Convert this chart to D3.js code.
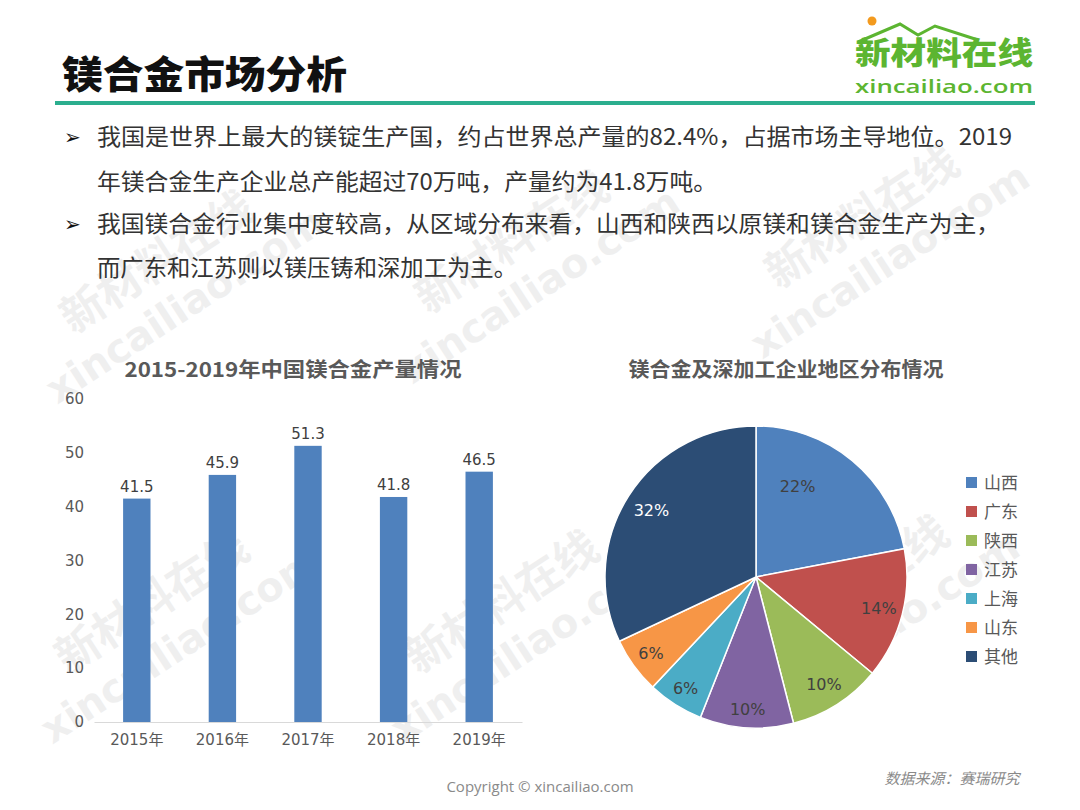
<!DOCTYPE html>
<html><head><meta charset="utf-8">
<script src="https://cdn.jsdelivr.net/npm/d3@7"></script>
<style>
html,body{margin:0;padding:0;background:#fff;}
svg{display:block;}
</style></head>
<body>
<svg id="c" width="1080" height="810"></svg>
<script>
const years = ["2015年","2016年","2017年","2018年","2019年"];
const output = [41.5, 45.9, 51.3, 41.8, 46.5];
const yTicks = [0,10,20,30,40,50,60];
const regions = ["山西","广东","陕西","江苏","上海","山东","其他"];
const shares = [22,14,10,10,6,6,32];
const regionColors = ["#4F81BD","#C0504D","#9BBB59","#8064A2","#4BACC6","#F79646","#2C4D75"];
const bullets = [
  ["我国是世界上最大的镁锭生产国，约占世界总产量的82.4%，占据市场主导地位。2019","年镁合金生产企业总产能超过70万吨，产量约为41.8万吨。"],
  ["我国镁合金行业集中度较高，从区域分布来看，山西和陕西以原镁和镁合金生产为主，","而广东和江苏则以镁压铸和深加工为主。"]
];

const svg = d3.select("#c");
const cjk = "'Noto Sans CJK SC','Noto Sans',sans-serif";
const num = "'DejaVu Sans','Noto Sans CJK SC',sans-serif";

// watermarks
const wm = [[175,290],[530,270],[880,245],[170,630],[520,630],[870,615]];
wm.forEach(([x,y])=>{
  const g = svg.append("g").attr("transform",`translate(${x},${y}) rotate(-33)`).attr("opacity",0.06);
  g.append("text").attr("x",0).attr("y",-18).attr("text-anchor","middle").attr("font-family",cjk).attr("font-weight","bold").attr("font-size",44).text("新材料在线");
  g.append("text").attr("x",0).attr("y",32).attr("text-anchor","middle").attr("font-family",num).attr("font-weight","bold").attr("font-size",40).text("xincailiao.com");
});

// header
svg.append("text").attr("x",62).attr("y",88).attr("font-family",cjk).attr("font-weight","900").attr("font-size",38).attr("fill","#111").attr("textLength",285).attr("lengthAdjust","spacingAndGlyphs").text("镁合金市场分析");
svg.append("rect").attr("x",55).attr("y",101).attr("width",980).attr("height",4).attr("fill","#2BAE8E");

// logo
const lg = svg.append("g");
lg.append("circle").attr("cx",872).attr("cy",21).attr("r",4.5).attr("fill","#F39A1E");
lg.append("path").attr("d","M858,42 L900,24 L918,35 L935,26 L975,39").attr("fill","none").attr("stroke","#5CB531").attr("stroke-width",3);
lg.append("text").attr("x",944).attr("y",64).attr("text-anchor","middle").attr("font-family",cjk).attr("font-weight","900").attr("font-size",31).attr("fill","#5CB531").attr("textLength",178).attr("lengthAdjust","spacingAndGlyphs").text("新材料在线");
lg.append("text").attr("x",944).attr("y",93).attr("text-anchor","middle").attr("font-family","'Open Sans',sans-serif").attr("font-weight","600").attr("font-size",18).attr("fill","#5CB531").attr("textLength",178).attr("lengthAdjust","spacingAndGlyphs").text("xincailiao.com");

// bullets
const lineYs = [[145,190],[232,276]];
const lineLens = [[915,620],[903,420]];
bullets.forEach((b,i)=>{
  svg.append("text").attr("x",64).attr("y",lineYs[i][0]-1).attr("font-family","'DejaVu Sans',sans-serif").attr("font-size",20).attr("fill","#111").text("➢");
  b.forEach((t,j)=>{
    svg.append("text").attr("x",97).attr("y",lineYs[i][j]).attr("font-family",cjk).attr("font-size",22.5).attr("fill","#333")
      .attr("textLength",lineLens[i][j]).attr("lengthAdjust","spacingAndGlyphs").text(t);
  });
});

// bar chart
const x = d3.scaleBand().domain(years).range([94,522]).paddingInner(0.68).paddingOuter(0.34);
const y = d3.scaleLinear().domain([0,60]).range([722,399]);
svg.append("text").attr("x",293).attr("y",377).attr("text-anchor","middle").attr("font-family",cjk).attr("font-weight","bold").attr("font-size",20).attr("fill","#595959").attr("textLength",337).attr("lengthAdjust","spacingAndGlyphs").text("2015-2019年中国镁合金产量情况");
const yA = svg.append("g").attr("transform","translate(94,0)").call(d3.axisLeft(y).tickValues(yTicks).tickSize(0).tickPadding(10));
yA.select(".domain").remove();
yA.selectAll("text").attr("font-family",num).attr("font-size",15).attr("fill","#595959");
const xA = svg.append("g").attr("transform","translate(0,722)").call(d3.axisBottom(x).tickSize(0).tickPadding(12));
xA.select(".domain").attr("stroke","#D9D9D9");
xA.selectAll("text").attr("font-family",num).attr("font-size",15).attr("fill","#595959");
svg.append("g").selectAll("rect").data(output).join("rect")
  .attr("x",(d,i)=>x(years[i])).attr("width",x.bandwidth())
  .attr("y",d=>y(d)).attr("height",d=>y(0)-y(d)).attr("fill","#4F81BD");
svg.append("g").selectAll("text").data(output).join("text")
  .attr("x",(d,i)=>x(years[i])+x.bandwidth()/2).attr("y",d=>y(d)-7)
  .attr("text-anchor","middle").attr("font-family",num).attr("font-size",15).attr("fill","#404040")
  .text(d=>d.toFixed(1));

// pie
svg.append("text").attr("x",786).attr("y",377).attr("text-anchor","middle").attr("font-family",cjk).attr("font-weight","bold").attr("font-size",20).attr("fill","#595959").attr("textLength",315).attr("lengthAdjust","spacingAndGlyphs").text("镁合金及深加工企业地区分布情况");
const cx=756, cy=577, R=151;
const pie = d3.pie().sort(null).value(d=>d);
const arcs = pie(shares);
const arc = d3.arc().innerRadius(0).outerRadius(R);
const pg = svg.append("g").attr("transform",`translate(${cx},${cy})`);
pg.selectAll("path").data(arcs).join("path").attr("d",arc)
  .attr("fill",(d,i)=>regionColors[i]).attr("stroke","#fff").attr("stroke-width",1.5);
const labR = [0.66,0.84,0.84,0.88,0.87,0.86,0.82];
pg.selectAll("text").data(arcs).join("text")
  .attr("transform",(d,i)=>{
    const a = (d.startAngle+d.endAngle)/2 - (i===0?0.26:0);
    const r = R*labR[i];
    return `translate(${Math.sin(a)*r},${-Math.cos(a)*r})`;
  })
  .attr("text-anchor","middle").attr("dy","0.35em")
  .attr("font-family",num).attr("font-size",16)
  .attr("fill",(d,i)=>i===6?"#fff":"#404040")
  .text(d=>d.data+"%");

// legend
const lgd = svg.append("g").selectAll("g").data(regions).join("g")
  .attr("transform",(d,i)=>`translate(966,${483+i*29})`);
lgd.append("rect").attr("x",0).attr("y",-6).attr("width",11).attr("height",11).attr("fill",(d,i)=>regionColors[i]);
lgd.append("text").attr("x",18).attr("y",0).attr("dy","0.35em").attr("font-family",cjk).attr("font-size",17).attr("fill","#595959").text(d=>d);

// footer
svg.append("text").attr("x",540).attr("y",792).attr("text-anchor","middle").attr("font-family","'Open Sans',sans-serif").attr("font-size",15).attr("fill","#8a8a8a").text("Copyright © xincailiao.com");
svg.append("text").attr("x",952).attr("y",784).attr("text-anchor","middle").attr("font-family",cjk).attr("font-style","italic").attr("font-size",15).attr("fill","#8a8a8a").text("数据来源：赛瑞研究");
</script>
</body></html>
